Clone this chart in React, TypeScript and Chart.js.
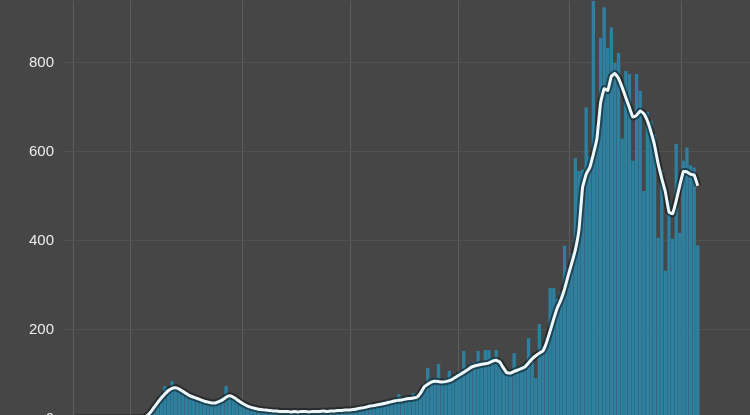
import React, { useEffect, useRef } from 'react';
import { Chart, registerables } from 'chart.js';

Chart.register(...registerables);

// 188 daily categories across the plot (data covers the first 174)
const dayLabels: string[] = Array.from({ length: 188 }, (_, i) => String(i));

const dailyValues: number[] = [
  1, 2, 1, 2, 3, 1, 2, 2, 3, 1,
  2, 3, 2, 1, 3, 2, 2, 4, 3, 5,
  9, 18, 30, 42, 55, 74, 68, 85, 72, 70,
  66, 60, 55, 52, 48, 45, 42, 40, 38, 40,
  44, 50, 74, 55, 50, 46, 40, 36, 31, 28,
  26, 24, 22, 22, 20, 20, 19, 19, 18, 19,
  17, 19, 18, 19, 18, 18, 20, 18, 19, 20,
  19, 21, 20, 22, 21, 23, 22, 24, 25, 27,
  28, 30, 33, 34, 36, 38, 40, 42, 44, 46,
  56, 48, 50, 50, 58, 54, 65, 80, 115, 90,
  92, 124, 88, 92, 108, 96, 102, 108, 153, 118,
  124, 128, 153, 130, 155, 155, 138, 155, 134, 120,
  110, 108, 148, 116, 120, 124, 182, 142, 92, 213,
  165, 185, 294, 294, 270, 285, 389, 340, 372, 586,
  557, 560, 700, 590, 950, 660, 856, 925, 834, 880,
  800, 822, 630, 782, 775, 580, 775, 737, 512, 690,
  670, 640, 407, 560, 333, 490, 405, 618, 418, 580,
  610, 570, 565, 390,
];

const averageValues: number[] = [
  2, 2, 2, 2, 2, 2, 2, 2, 2, 2,
  2, 2, 2, 2, 2, 2, 2, 2, 3, 3,
  7, 15, 26, 37, 47, 56, 64, 69, 70, 67,
  62, 57, 52, 49, 46, 43, 40, 38, 36, 36,
  39, 43, 49, 52, 49, 44, 38, 33, 29, 26,
  24, 22, 21, 20, 19, 18, 18, 17, 17, 17,
  16, 17, 16, 17, 17, 16, 17, 17, 17, 18,
  17, 18, 18, 19, 19, 20, 20, 21, 22, 24,
  25, 27, 29, 30, 32, 33, 35, 37, 39, 41,
  42, 43, 45, 46, 47, 49, 58, 72, 78, 83,
  85, 84, 83, 84, 86, 90, 95, 100, 105, 110,
  116, 119, 121, 123, 124, 126, 130, 132, 128, 115,
  104, 103, 107, 110, 113, 117, 126, 135, 142, 148,
  153, 172, 198, 225, 250, 268, 292, 322, 350, 380,
  425, 520, 550, 565, 595, 630, 710, 742, 738, 770,
  776, 765, 745, 722, 700, 678, 682, 692, 686, 670,
  645, 615, 573, 540, 510, 465, 461, 490, 525, 556,
  555, 550, 548, 524,
];

const yTickValues: number[] = [0, 200, 400, 600, 800];
const gridLineIndices: number[] = [0, 16, 47, 77, 107, 138, 169];

const BG = '#464646';

const backgroundPlugin = {
  id: 'bgFill',
  beforeDraw(chart: any) {
    const ctx = chart.ctx;
    ctx.save();
    ctx.fillStyle = BG;
    ctx.fillRect(0, 0, chart.width, chart.height);
    ctx.restore();
  },
};

export default function App() {
  const canvasRef = useRef<HTMLCanvasElement | null>(null);

  useEffect(() => {
    document.body.style.background = BG;
    const canvas = canvasRef.current;
    if (!canvas) return;
    const chart = new Chart(canvas, {
      type: 'bar',
      data: {
        labels: dayLabels,
        datasets: [
          {
            type: 'line',
            data: averageValues,
            borderColor: '#eef8fb',
            borderWidth: 3,
            pointRadius: 0,
            tension: 0.1,
            fill: false,
            order: 1,
          } as any,
          {
            type: 'line',
            data: averageValues,
            borderColor: 'rgba(10,14,16,0.5)',
            borderWidth: 7,
            pointRadius: 0,
            tension: 0.1,
            fill: false,
            order: 2,
          } as any,
          {
            type: 'bar',
            data: dailyValues,
            backgroundColor: '#2d80a0',
            borderWidth: 0,
            barPercentage: 0.92,
            categoryPercentage: 1,
            order: 3,
          },
        ],
      },
      options: {
        responsive: false,
        animation: false,
        devicePixelRatio: 1,
        layout: { padding: { left: 19, right: 0, top: 0, bottom: 0 } },
        plugins: {
          legend: { display: false },
          tooltip: { enabled: false },
          title: { display: false },
        },
        scales: {
          x: {
            type: 'category',
            offset: true,
            ticks: { display: false },
            border: { display: false },
            grid: {
              offset: true,
              drawTicks: false,
              lineWidth: 1,
              color: (ctx: any) =>
                ctx.index !== undefined && gridLineIndices.includes(ctx.index)
                  ? '#5e5e5e'
                  : 'rgba(0,0,0,0)',
            },
          },
          y: {
            min: 0,
            max: 939,
            afterBuildTicks: (scale: any) => {
              scale.ticks = yTickValues.map((v) => ({ value: v }));
            },
            border: { display: false },
            grid: {
              color: '#525252',
              lineWidth: 1,
              drawTicks: true,
              tickLength: 9,
            },
            ticks: {
              color: '#ececec',
              padding: 10,
              font: { family: "'Liberation Sans', Arial, sans-serif", size: 15 },
            },
          },
        },
      },
      plugins: [backgroundPlugin],
    });
    return () => chart.destroy();
  }, []);

  return (
    <div style={{ position: 'fixed', left: 0, top: -18, width: 750, height: 456, background: BG }}>
      <canvas ref={canvasRef} width={750} height={456} style={{ display: 'block' }} />
    </div>
  );
}
